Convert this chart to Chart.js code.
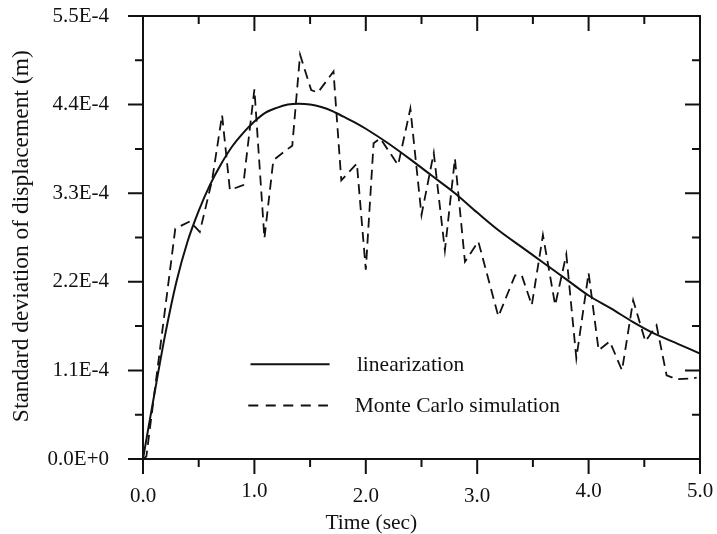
<!DOCTYPE html>
<html>
<head>
<meta charset="utf-8">
<script src="https://cdn.jsdelivr.net/npm/chart.js@4"></script>
<style>
  html, body { margin: 0; padding: 0; background: #fff; }
  #c { display: block; }
</style>
</head>
<body>
<canvas id="c" width="717" height="534"></canvas>
<script>
// ---- Data ----
const timeLinear = [0, 0.1, 0.2, 0.3, 0.4, 0.5, 0.6, 0.7, 0.8, 0.9, 1.0, 1.1, 1.2, 1.3, 1.4, 1.5, 1.6, 1.7, 1.8, 1.9, 2.0, 2.2, 2.4, 2.6, 2.8, 3.0, 3.2, 3.4, 3.6, 3.8, 4.0, 4.2, 4.4, 4.6, 4.8, 5.0];
const linearization = [0, 0.79e-4, 1.55e-4, 2.20e-4, 2.70e-4, 3.08e-4, 3.40e-4, 3.66e-4, 3.88e-4, 4.05e-4, 4.19e-4, 4.30e-4, 4.36e-4, 4.40e-4, 4.41e-4, 4.40e-4, 4.37e-4, 4.32e-4, 4.25e-4, 4.18e-4, 4.10e-4, 3.92e-4, 3.72e-4, 3.51e-4, 3.30e-4, 3.06e-4, 2.83e-4, 2.63e-4, 2.43e-4, 2.23e-4, 2.03e-4, 1.87e-4, 1.70e-4, 1.55e-4, 1.43e-4, 1.31e-4];

const timeMonteCarlo = [0, 0.03, 0.29, 0.42, 0.51, 0.62, 0.71, 0.78, 0.90, 1.0, 1.09, 1.17, 1.29, 1.34, 1.41, 1.51, 1.57, 1.71, 1.78, 1.92, 2.00, 2.07, 2.13, 2.29, 2.40, 2.50, 2.61, 2.71, 2.80, 2.89, 3.01, 3.19, 3.34, 3.40, 3.49, 3.59, 3.70, 3.80, 3.89, 4.00, 4.09, 4.19, 4.30, 4.40, 4.51, 4.61, 4.70, 4.79, 4.93, 4.97];
const monteCarlo = [0, 0.03e-4, 2.86e-4, 2.95e-4, 2.82e-4, 3.46e-4, 4.27e-4, 3.34e-4, 3.40e-4, 4.59e-4, 2.74e-4, 3.71e-4, 3.84e-4, 3.89e-4, 5.02e-4, 4.58e-4, 4.55e-4, 4.81e-4, 3.46e-4, 3.67e-4, 2.35e-4, 3.92e-4, 3.98e-4, 3.65e-4, 4.35e-4, 3.03e-4, 3.80e-4, 2.59e-4, 3.73e-4, 2.45e-4, 2.70e-4, 1.77e-4, 2.28e-4, 2.28e-4, 1.91e-4, 2.78e-4, 1.91e-4, 2.54e-4, 1.25e-4, 2.31e-4, 1.35e-4, 1.46e-4, 1.10e-4, 1.97e-4, 1.46e-4, 1.66e-4, 1.04e-4, 0.99e-4, 1.00e-4, 1.01e-4];

const xTickValues = [0, 1, 2, 3, 4, 5];
const xTickLabels = ['0.0', '1.0', '2.0', '3.0', '4.0', '5.0'];
const yTickValues = [0, 1.1e-4, 2.2e-4, 3.3e-4, 4.4e-4, 5.5e-4];
const yTickLabels = ['0.0E+0', '1.1E-4', '2.2E-4', '3.3E-4', '4.4E-4', '5.5E-4'];

const xTitle = 'Time (sec)';
const yTitle = 'Standard deviation of displacement (m)';
const seriesNames = ['linearization', 'Monte Carlo simulation'];

const FONT = '"Liberation Serif", "Times New Roman", serif';
// vertical placement of x tick labels (the original prints them slightly staggered)
const xLabelCenters = [496, 491, 496, 496, 491, 491];

// ---- Frame, ticks, x labels, legend and axis titles ----
const framePlugin = {
  id: 'frame',
  afterDraw(chart) {
    const ctx = chart.ctx;
    const a = chart.chartArea;
    const xs = chart.scales.x, ys = chart.scales.y;
    ctx.save();
    ctx.strokeStyle = '#111';
    ctx.lineWidth = 2;
    ctx.lineCap = 'butt';
    ctx.strokeRect(a.left, a.top, a.right - a.left, a.bottom - a.top);

    const MAJ = 15, MIN = 8;
    ctx.beginPath();
    for (let i = 0; i < xTickValues.length; i++) {
      const px = xs.getPixelForValue(xTickValues[i]);
      ctx.moveTo(px, a.bottom); ctx.lineTo(px, a.bottom + MAJ);
      ctx.moveTo(px, a.top); ctx.lineTo(px, a.top + MAJ);
      if (i < xTickValues.length - 1) {
        const pm = xs.getPixelForValue((xTickValues[i] + xTickValues[i + 1]) / 2);
        ctx.moveTo(pm, a.bottom); ctx.lineTo(pm, a.bottom + MIN);
        ctx.moveTo(pm, a.top); ctx.lineTo(pm, a.top + MIN);
      }
    }
    for (let i = 0; i < yTickValues.length; i++) {
      const py = ys.getPixelForValue(yTickValues[i]);
      ctx.moveTo(a.left, py); ctx.lineTo(a.left - MAJ, py);
      ctx.moveTo(a.right, py); ctx.lineTo(a.right - MAJ, py);
      if (i < yTickValues.length - 1) {
        const pm = ys.getPixelForValue((yTickValues[i] + yTickValues[i + 1]) / 2);
        ctx.moveTo(a.left, pm); ctx.lineTo(a.left - MIN, pm);
        ctx.moveTo(a.right, pm); ctx.lineTo(a.right - MIN, pm);
      }
    }
    ctx.stroke();

    ctx.fillStyle = '#111';
    ctx.textBaseline = 'middle';

    // x tick labels
    ctx.font = '21px ' + FONT;
    ctx.textAlign = 'center';
    xTickValues.forEach((v, i) => {
      ctx.fillText(xTickLabels[i], xs.getPixelForValue(v), xLabelCenters[i]);
    });

    // Legend inside plot
    const w = a.right - a.left, h = a.bottom - a.top;
    ctx.font = '21.5px ' + FONT;
    ctx.textAlign = 'left';
    const rows = [
      { y: a.top + 0.786 * h, x0: a.left + 0.193 * w, x1: a.left + 0.335 * w, tx: a.left + 0.384 * w, dash: [] },
      { y: a.top + 0.879 * h, x0: a.left + 0.189 * w, x1: a.left + 0.332 * w, tx: a.left + 0.380 * w, dash: [10, 7.5] }
    ];
    rows.forEach((r, i) => {
      ctx.beginPath();
      ctx.setLineDash(r.dash);
      ctx.lineWidth = 2;
      ctx.moveTo(r.x0, r.y); ctx.lineTo(r.x1, r.y);
      ctx.stroke();
      ctx.setLineDash([]);
      ctx.fillText(seriesNames[i], r.tx, r.y + 1);
    });

    // Axis titles
    ctx.textAlign = 'center';
    ctx.font = '21.5px ' + FONT;
    ctx.fillText(xTitle, a.left + 0.41 * w, 523);
    ctx.save();
    ctx.font = '23.5px ' + FONT;
    ctx.translate(22, a.top + 0.497 * h);
    ctx.rotate(-Math.PI / 2);
    ctx.fillText(yTitle, 0, 0);
    ctx.restore();
    ctx.restore();
  }
};

const ctx = document.getElementById('c').getContext('2d');
new Chart(ctx, {
  type: 'line',
  data: {
    datasets: [
      {
        label: seriesNames[0],
        data: timeLinear.map((t, i) => ({ x: t, y: linearization[i] })),
        borderColor: '#111',
        borderWidth: 2,
        pointRadius: 0,
        cubicInterpolationMode: 'monotone',
        fill: false
      },
      {
        label: seriesNames[1],
        data: timeMonteCarlo.map((t, i) => ({ x: t, y: monteCarlo[i] })),
        borderColor: '#111',
        borderWidth: 1.8,
        borderDash: [10, 6],
        pointRadius: 0,
        tension: 0,
        fill: false
      }
    ]
  },
  options: {
    responsive: false,
    animation: false,
    devicePixelRatio: 1,
    layout: { padding: { top: 16, right: 17, left: 0, bottom: 0 } },
    plugins: { legend: { display: false }, tooltip: { enabled: false }, title: { display: false } },
    scales: {
      x: {
        type: 'linear',
        min: 0, max: 5,
        border: { display: false },
        grid: { display: false, drawTicks: false },
        afterBuildTicks: (s) => { s.ticks = xTickValues.map(v => ({ value: v })); },
        afterFit: (s) => { s.height = 75; s.paddingLeft = 0; s.paddingRight = 0; s.paddingTop = 0; s.paddingBottom = 0; },
        ticks: {
          display: false,
          autoSkip: false, maxRotation: 0
        }
      },
      y: {
        type: 'linear',
        min: 0, max: 5.5e-4,
        border: { display: false },
        grid: { display: false, drawTicks: false },
        afterBuildTicks: (s) => { s.ticks = yTickValues.map(v => ({ value: v })); },
        afterFit: (s) => { s.width = 143; s.paddingLeft = 0; s.paddingRight = 0; s.paddingTop = 0; s.paddingBottom = 0; },
        ticks: {
          autoSkip: false, padding: 34,
          color: '#111',
          font: { family: FONT, size: 21 },
          callback: (v, i) => yTickLabels[i]
        }
      }
    }
  },
  plugins: [framePlugin]
});
</script>
</body>
</html>
